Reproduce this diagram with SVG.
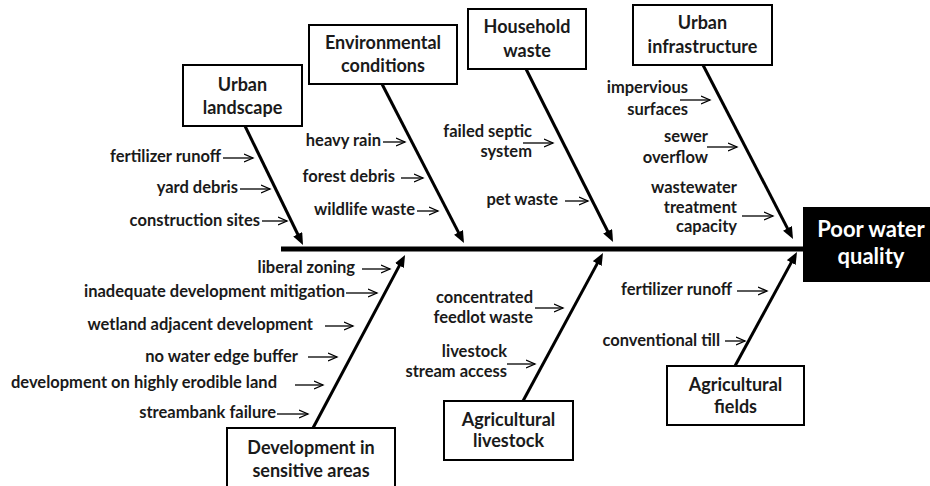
<svg xmlns="http://www.w3.org/2000/svg" width="930" height="486" viewBox="0 0 930 486">
<defs>
<style>
.t{font-family:Lato,"Open Sans","Liberation Sans",sans-serif;font-weight:bold;fill:#1a1a1a}
.title{font-size:18px;text-anchor:middle}
.lab{font-size:16.5px;text-anchor:end}
.box{fill:#fff;stroke:#000;stroke-width:2}
.big{stroke:#000;stroke-width:3;fill:none;marker-end:url(#bh)}
.sm{stroke:#000;stroke-width:1.3;fill:none;marker-end:url(#sh)}
.head{font-family:Lato,"Open Sans","Liberation Sans",sans-serif;font-weight:bold;font-size:22px;fill:#fff;text-anchor:middle}
</style>
<marker id="bh" markerUnits="userSpaceOnUse" markerWidth="12" markerHeight="10" refX="7" refY="5" orient="auto"><path d="M0,0 L12,5 L0,10 z" fill="#000"/></marker>
<marker id="sh" markerUnits="userSpaceOnUse" markerWidth="11" markerHeight="10" refX="9.5" refY="5" orient="auto"><path d="M0.5,1 L9.5,5 L0.5,9" fill="none" stroke="#000" stroke-width="1.3"/></marker>
</defs>
<rect width="930" height="486" fill="#fff"/>

<g id="connectors">
<line x1="281" y1="249" x2="803" y2="249" stroke="#000" stroke-width="5"/>
<line class="big" x1="245" y1="126" x2="300.8" y2="240.5"/>
<line class="big" x1="382" y1="84" x2="461.7" y2="238.6"/>
<line class="big" x1="526" y1="69" x2="610.8" y2="237.5"/>
<line class="big" x1="703" y1="65" x2="790.7" y2="234.6"/>
<line class="big" x1="313" y1="428" x2="402.7" y2="259.4"/>
<line class="big" x1="523" y1="401" x2="600.6" y2="257.4"/>
<line class="big" x1="735" y1="366" x2="794.6" y2="256.4"/>
</g>

<g id="head">
<rect x="803" y="207" width="130" height="75" fill="#000"/>
<text class="head" x="871" y="237">Poor water</text>
<text class="head" x="871" y="264">quality</text>
</g>

<g id="urban-landscape">
<rect class="box" x="183" y="65" width="119" height="61"/>
<text class="t title" x="242.5" y="91">Urban</text>
<text class="t title" x="242.5" y="114">landscape</text>
<text class="t lab" x="221" y="162">fertilizer runoff</text>
<line class="sm" x1="223" y1="158" x2="253" y2="158"/>
<text class="t lab" x="238" y="193">yard debris</text>
<line class="sm" x1="240" y1="189" x2="270" y2="189"/>
<text class="t lab" x="260" y="226">construction sites</text>
<line class="sm" x1="262" y1="221" x2="287" y2="221"/>
</g>

<g id="environmental-conditions">
<rect class="box" x="309" y="25" width="148" height="59"/>
<text class="t title" x="383" y="49">Environmental</text>
<text class="t title" x="383" y="72">conditions</text>
<text class="t lab" x="381" y="146">heavy rain</text>
<line class="sm" x1="383" y1="142" x2="405" y2="142"/>
<text class="t lab" x="395" y="182">forest debris</text>
<line class="sm" x1="401" y1="178" x2="423" y2="178"/>
<text class="t lab" x="415" y="215">wildlife waste</text>
<line class="sm" x1="417" y1="211" x2="438" y2="211"/>
</g>

<g id="household-waste">
<rect class="box" x="468" y="9" width="118" height="60"/>
<text class="t title" x="527" y="33">Household</text>
<text class="t title" x="527" y="57">waste</text>
<text class="t lab" x="532" y="137">failed septic</text>
<text class="t lab" x="532" y="157">system</text>
<line class="sm" x1="523" y1="143" x2="553" y2="143"/>
<text class="t lab" x="558" y="205">pet waste</text>
<line class="sm" x1="565" y1="201" x2="588" y2="201"/>
</g>

<g id="urban-infrastructure">
<rect class="box" x="633" y="5" width="139" height="60"/>
<text class="t title" x="702.5" y="29">Urban</text>
<text class="t title" x="702.5" y="53">infrastructure</text>
<text class="t lab" x="688" y="93">impervious</text>
<text class="t lab" x="688" y="115">surfaces</text>
<line class="sm" x1="680" y1="100" x2="710" y2="100"/>
<text class="t lab" x="708" y="142">sewer</text>
<text class="t lab" x="708" y="163">overflow</text>
<line class="sm" x1="707" y1="147" x2="737" y2="147"/>
<text class="t lab" x="737" y="193">wastewater</text>
<text class="t lab" x="737" y="213">treatment</text>
<text class="t lab" x="737" y="232">capacity</text>
<line class="sm" x1="742" y1="216" x2="773" y2="216"/>
</g>

<g id="development-sensitive-areas">
<rect class="box" x="227" y="428" width="168" height="64"/>
<text class="t title" x="311" y="454">Development in</text>
<text class="t title" x="311" y="477">sensitive areas</text>
<text class="t lab" x="355" y="273">liberal zoning</text>
<line class="sm" x1="362" y1="269" x2="390" y2="269"/>
<text class="t lab" x="345" y="297">inadequate development mitigation</text>
<line class="sm" x1="346" y1="293" x2="377" y2="293"/>
<text class="t lab" x="313" y="330">wetland adjacent development</text>
<line class="sm" x1="325" y1="326" x2="353" y2="326"/>
<text class="t lab" x="298" y="362">no water edge buffer</text>
<line class="sm" x1="308" y1="357" x2="337" y2="357"/>
<text class="t lab" x="277" y="388">development on highly erodible land</text>
<line class="sm" x1="295" y1="385" x2="323" y2="385"/>
<text class="t lab" x="276" y="418">streambank failure</text>
<line class="sm" x1="277" y1="414" x2="308" y2="414"/>
</g>

<g id="agricultural-livestock">
<rect class="box" x="444" y="401" width="129" height="59"/>
<text class="t title" x="508.5" y="426">Agricultural</text>
<text class="t title" x="508.5" y="447">livestock</text>
<text class="t lab" x="533" y="303">concentrated</text>
<text class="t lab" x="533" y="323">feedlot waste</text>
<line class="sm" x1="535" y1="308" x2="563" y2="308"/>
<text class="t lab" x="507" y="357">livestock</text>
<text class="t lab" x="507" y="377">stream access</text>
<line class="sm" x1="507" y1="364" x2="535" y2="364"/>
</g>

<g id="agricultural-fields">
<rect class="box" x="667" y="366" width="137" height="59"/>
<text class="t title" x="735.5" y="391">Agricultural</text>
<text class="t title" x="735.5" y="413">fields</text>
<text class="t lab" x="732" y="295">fertilizer runoff</text>
<line class="sm" x1="737" y1="291" x2="767" y2="291"/>
<text class="t lab" x="720" y="346">conventional till</text>
<line class="sm" x1="725" y1="341" x2="745" y2="341"/>
</g>
</svg>
